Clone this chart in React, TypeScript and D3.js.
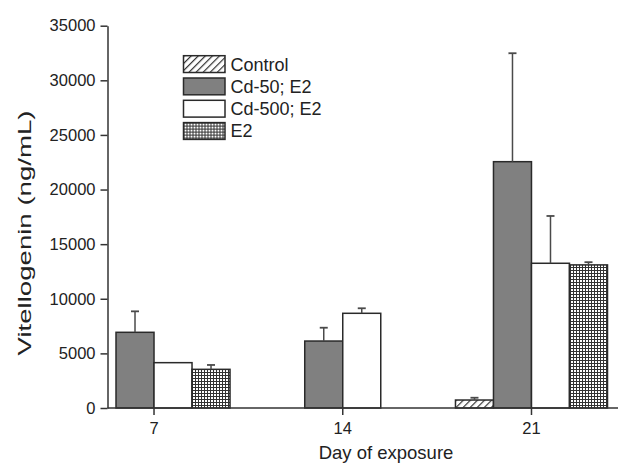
import React, { useEffect, useRef } from 'react';
import * as d3 from 'd3';

const days = ['7', '14', '21'];
const series = ['Control', 'Cd-50; E2', 'Cd-500; E2', 'E2'];
// mean values per series, indexed by day (null = not measured)
const controlVals = [null, null, 730];
const cd50Vals = [6930, 6130, 22550];
const cd500Vals = [4150, 8670, 13250];
const e2Vals = [3540, null, 13100];
// upper error (SEM) per series
const controlErr = [null, null, 210];
const cd50Err = [1920, 1220, 9930];
const cd500Err = [0, 460, 4330];
const e2Err = [400, null, 250];
const yTicks = [0, 5000, 10000, 15000, 20000, 25000, 30000, 35000];

const FONT = 'Liberation Sans, Arial, Helvetica, sans-serif';

const App = () => {
	const chartRef = useRef<SVGSVGElement>(null);

	useEffect(() => {
		document.body.style.margin = '0';
		const svg = d3.select(chartRef.current);
		svg.selectAll('*').remove();

		const values = [controlVals, cd50Vals, cd500Vals, e2Vals];
		const errs = [controlErr, cd50Err, cd500Err, e2Err];

		const defs = svg.append('defs');
		const hatch = defs.append('pattern')
			.attr('id', 'hatch')
			.attr('patternUnits', 'userSpaceOnUse')
			.attr('width', 5)
			.attr('height', 5)
			.attr('patternTransform', 'rotate(45)');
		hatch.append('rect').attr('width', 5).attr('height', 5).attr('fill', '#fff');
		hatch.append('line')
			.attr('x1', 0).attr('y1', 0).attr('x2', 0).attr('y2', 5)
			.attr('stroke', '#333').attr('stroke-width', 2.4);

		const grid = defs.append('pattern')
			.attr('id', 'grid')
			.attr('patternUnits', 'userSpaceOnUse')
			.attr('width', 3)
			.attr('height', 3);
		grid.append('rect').attr('width', 3).attr('height', 3).attr('fill', '#fff');
		grid.append('path')
			.attr('d', 'M0,0.5H3M0.5,0V3')
			.attr('stroke', '#333').attr('stroke-width', 1);

		const fills = ['url(#hatch)', '#808080', '#ffffff', 'url(#grid)'];

		const x0 = d3.scaleBand().domain(days).range([78, 607.5]).paddingInner(0.1945).paddingOuter(0);
		const x1 = d3.scaleBand().domain(series).range([0, x0.bandwidth()]).padding(0);
		const y = d3.scaleLinear().domain([0, 35000]).range([408, 25.7]);

		const axisLeft = 107.5;
		const axisRight = 618;

		// bars
		series.forEach((s, si) => {
			days.forEach((d, di) => {
				const v = values[si][di];
				if (v === null) return;
				const bx = x0(d)! + x1(s)!;
				const bw = x1.bandwidth();
				svg.append('rect')
					.attr('x', bx)
					.attr('y', y(v))
					.attr('width', bw)
					.attr('height', y(0) - y(v))
					.attr('fill', fills[si])
					.attr('stroke', '#2a2a2a')
					.attr('stroke-width', 1.5);
				const e = errs[si][di];
				if (e) {
					const cx = bx + bw / 2;
					svg.append('line')
						.attr('x1', cx).attr('x2', cx)
						.attr('y1', y(v)).attr('y2', y(v + e))
						.attr('stroke', '#4a4a4a').attr('stroke-width', 1.5);
					svg.append('line')
						.attr('x1', cx - 4).attr('x2', cx + 4)
						.attr('y1', y(v + e)).attr('y2', y(v + e))
						.attr('stroke', '#4a4a4a').attr('stroke-width', 1.8);
				}
			});
		});

		// y axis
		const yAxis = svg.append('g')
			.attr('transform', `translate(${axisLeft},0)`)
			.call(d3.axisLeft(y).tickValues(yTicks).tickFormat(d3.format('d')).tickSize(7).tickPadding(5).tickSizeOuter(0));
		yAxis.select('.domain').attr('stroke', '#333').attr('stroke-width', 1.5);
		yAxis.selectAll('.tick line').attr('stroke', '#333').attr('stroke-width', 1.5);
		yAxis.selectAll('text').attr('fill', '#222').style('font-family', FONT).style('font-size', '16.5px');

		// x axis
		svg.append('line')
			.attr('x1', axisLeft).attr('x2', axisRight)
			.attr('y1', y(0)).attr('y2', y(0))
			.attr('stroke', '#333').attr('stroke-width', 1.5);
		days.forEach(d => {
			const cx = x0(d)! + x0.bandwidth() / 2;
			svg.append('line')
				.attr('x1', cx).attr('x2', cx)
				.attr('y1', y(0)).attr('y2', y(0) + 7)
				.attr('stroke', '#333').attr('stroke-width', 1.5);
			svg.append('text')
				.attr('x', cx).attr('y', 434.3)
				.attr('text-anchor', 'middle')
				.attr('fill', '#222')
				.style('font-family', FONT).style('font-size', '16.5px')
				.text(d);
		});

		svg.append('text')
			.attr('x', 386).attr('y', 459)
			.attr('text-anchor', 'middle')
			.attr('fill', '#222')
			.style('font-family', FONT).style('font-size', '18.5px')
			.text('Day of exposure');

		svg.append('text')
			.attr('transform', `translate(31,233) rotate(-90)`)
			.attr('text-anchor', 'middle')
			.attr('textLength', 245)
			.attr('lengthAdjust', 'spacingAndGlyphs')
			.attr('fill', '#222')
			.style('font-family', FONT).style('font-size', '19px')
			.text('Vitellogenin (ng/mL)');

		// legend
		const legend = svg.append('g').attr('transform', 'translate(183.5,55.7)');
		series.forEach((s, i) => {
			const g = legend.append('g').attr('transform', `translate(0,${i * 22.3})`);
			g.append('rect')
				.attr('width', 41.5).attr('height', 16.8)
				.attr('fill', fills[i])
				.attr('stroke', '#2a2a2a').attr('stroke-width', 1.5);
			g.append('text')
				.attr('x', 47).attr('y', 14.8)
				.attr('fill', '#222')
				.style('font-family', FONT).style('font-size', '18px')
				.text(s);
		});
	}, []);

	return <svg ref={chartRef} width={619} height={464} style={{ display: 'block', background: '#fff' }}></svg>;
};

export default App;
